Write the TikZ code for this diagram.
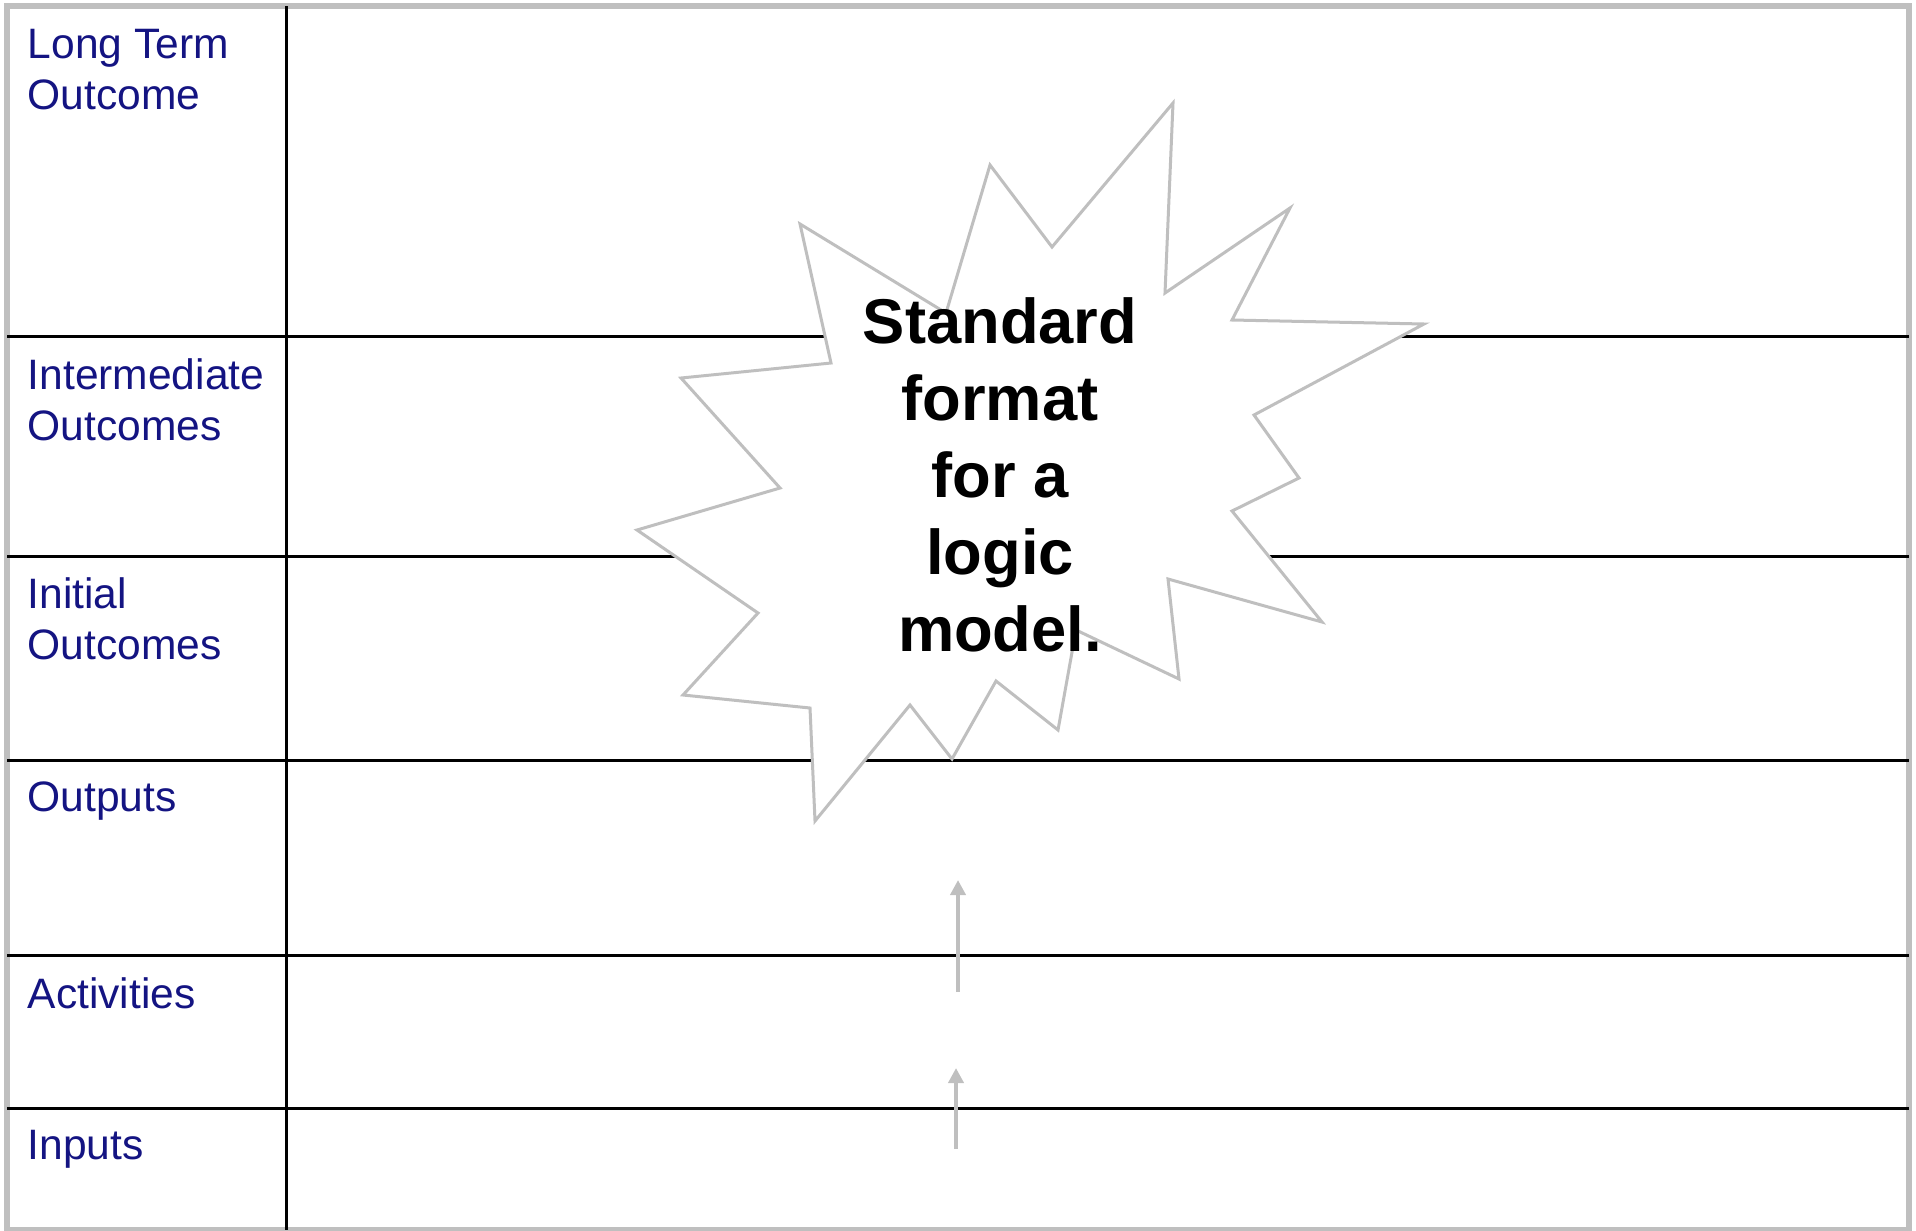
\documentclass[tikz,border=0pt]{standalone}
\usepackage{fontspec}
\setmainfont{Liberation Sans}
\usetikzlibrary{arrows.meta}

\definecolor{labelblue}{RGB}{20,20,130}
\definecolor{framegray}{RGB}{191,191,191}

\begin{document}
\begin{tikzpicture}[x=0.01cm, y=-0.01cm,
		rowline/.style={black, line width=0.03cm},
		rowlabel/.style={anchor=north west, inner sep=0pt, align=left, text=labelblue,
			font=\fontsize{12.1pt}{14.5pt}\selectfont},
		flow/.style={draw=framegray, line width=0.04cm, -{Triangle[length=0.15cm, width=0.15cm]}}]
	\useasboundingbox (0,0) rectangle (1916,1230);

	% Frame
	\draw[framegray, line width=0.06cm] (7,6) rectangle (1909,1230);

	% Rows
	\foreach \y in {336, 556, 760, 955, 1108}	{
		\draw[rowline] (7,\y) -- (1909,\y);
	}
	\draw[rowline] (286,6) -- (286,1230);

	% Row labels
	\node[rowlabel] (longterm) at (27,28.5) {Long Term\\Outcome};
	\node[rowlabel] (intermediate) at (27,357.5) {Intermediate\\Outcomes};
	\node[rowlabel] (initial) at (27,577) {Initial\\Outcomes};
	\node[rowlabel] (outputs) at (27,781) {Outputs};
	\node[rowlabel] (activities) at (27,976.5) {Activities};
	\node[rowlabel] (inputs) at (27,1129.5) {Inputs};

	% Starburst
	\filldraw[fill=white, draw=framegray, line width=0.03cm, line join=miter]
		(1173,103) -- (1165,293) -- (1290,208) -- (1232,320) -- (1424,324)
		-- (1254,415) -- (1299,478) -- (1232,511) -- (1322,622) -- (1168,579)
		-- (1179,679) -- (1076,630) -- (1058,730) -- (996,681) -- (952,759)
		-- (910,705) -- (815,821) -- (810,708) -- (683,695) -- (758,613)
		-- (637,530) -- (780,488) -- (681,378) -- (831,363) -- (800,224)
		-- (946,313) -- (990,165) -- (1052,247) -- cycle;
	\node[inner sep=0pt, anchor=north, align=center,
		font=\bfseries\fontsize{18pt}{21.9pt}\selectfont]
		(startext) at (1000,297) {Standard\\format\\for a\\logic\\model.};

	% Arrows
	\coordinate (inputsfrom) at (956,1149);
	\coordinate (inputsto) at (956,1068);
	\coordinate (activitiesfrom) at (958,992);
	\coordinate (activitiesto) at (958,880);
	\draw[flow] (inputsfrom) -- (inputsto);
	\draw[flow] (activitiesfrom) -- (activitiesto);
\end{tikzpicture}
\end{document}
